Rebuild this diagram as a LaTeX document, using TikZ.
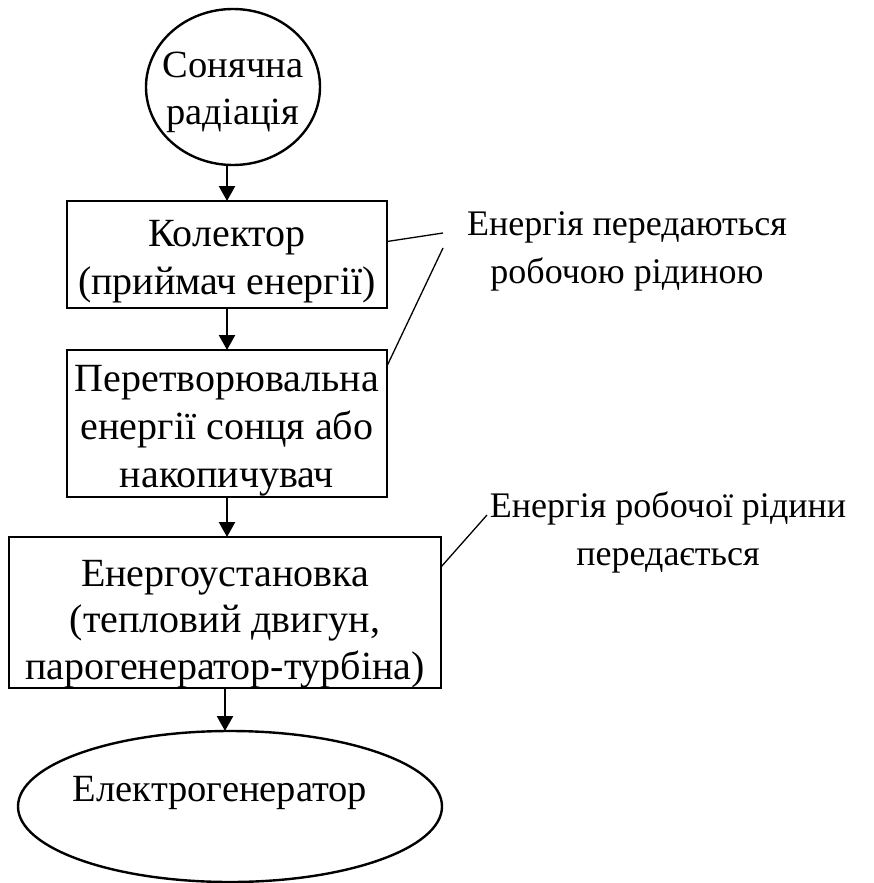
\documentclass[tikz,border=0pt]{standalone}
\usepackage{fontspec}
\setmainfont{Liberation Serif}
\usetikzlibrary{arrows.meta,shapes.geometric}
\begin{document}
\begin{tikzpicture}[x=1pt,y=-1pt,
  shapebox/.style={draw, line width=2.9pt, inner sep=0pt, outer sep=0pt},
  oval/.style={draw, ellipse, line width=2.4pt, inner sep=0pt, outer sep=0pt},
  txt/.style={align=center, inner sep=0pt},
  big/.style={font=\fontsize{40}{48}\selectfont},
  tight/.style={font=\fontsize{40}{46.5}\selectfont},
  mid/.style={font=\fontsize{38.5}{47}\selectfont},
  small/.style={font=\fontsize{36}{48}\selectfont},
  flow/.style={line width=2.4pt, -{Triangle[length=15pt,width=16pt]}},
  leader/.style={line width=1.3pt}]
\useasboundingbox (0,0) rectangle (873,883);
% shapes
\node[oval, minimum width=174pt, minimum height=156pt] (e1) at (233,87) {};
\node[txt, mid] (t1) at (233,92) {Сонячна\\радіація};
\node[shapebox, minimum width=320pt, minimum height=107pt] (b1) at (227,254.5) {};
\node[txt, big] (t2) at (227,262) {Колектор\\(приймач енергії)};
\node[shapebox, minimum width=320pt, minimum height=147pt] (b2) at (227,423.5) {};
\node[txt, big] (t3) at (227,431) {Перетворювальна\\енергії сонця або\\накопичувач};
\node[shapebox, minimum width=432pt, minimum height=151pt] (b3) at (225,612.5) {};
\node[txt, tight] (t4) at (225,624) {Енергоустановка\\(тепловий двигун,\\парогенератор-турбіна)};
\node[oval, minimum width=424pt, minimum height=151pt] (e2) at (230,806.5) {};
\node[txt, mid] (t5) at (220,793) {Електрогенератор};
% flow arrows
\draw[flow] (b1.north |- e1.south) -- (b1.north);
\draw[flow] (b1.south) -- (b2.north);
\draw[flow] (b2.south) -- (b2.south |- b3.north);
\draw[flow] (b3.south) -- (b3.south |- e2.north);
% annotations
\node[txt, small] (n1) at (627,251) {Енергія передаються\\робочою рідиною};
\node[txt, small] (n2) at (668,532) {Енергія робочої рідини\\передається};
\coordinate (a1) at (443,233);
\coordinate (a2) at (443,248);
\coordinate (a3) at (487,515);
\draw[leader] ([yshift=13pt]b1.east) -- (a1);
\draw[leader] (a2) -- ([yshift=-16pt]b2.north east);
\draw[leader] ([yshift=-30pt]b3.north east) -- (a3);
\end{tikzpicture}
\end{document}
